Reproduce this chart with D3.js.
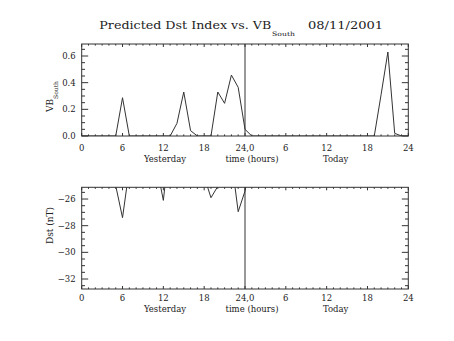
<!DOCTYPE html>
<html><head><meta charset="utf-8">
<script src="https://cdn.jsdelivr.net/npm/d3@7/dist/d3.min.js"></script>
<style>
html,body{margin:0;padding:0;background:#fff;}
svg{display:block;}
text{font-family:"DejaVu Serif",serif;fill:#222;}
</style></head>
<body>
<script>
// ---- data ----
const hoursVB = d3.range(0, 49);
const vbSouth = [0,0,0,0,0,0,0.287,0,0,0,0,0,0,0,0.095,0.33,0.04,0,0,0,0.33,0.245,0.457,0.365,0.05,0,
                 0,0,0,0,0,0,0,0,0,0,0,0,0,0,0,0,0,0,0.31,0.63,0.02,0,0];
const hoursDst = d3.range(0, 26);
const dst = [-24.0,-24.0,-24.0,-24.0,-24.0,-25.0,-27.4,-23.7,-23.5,-23.5,-23.5,-23.5,-26.1,-21.5,-23.0,-23.5,-24.0,-24.0,-24.3,-25.9,-25.05,-24.5,-23.0,-26.95,-25.4,-22.6];
const xTickValues = [0,6,12,18,24,30,36,42,48];
const xTickLabels = ["0","6","12","18","24,0","6","12","18","24"];
const vbTicks = [0.0,0.2,0.4,0.6];
const dstTicks = [-26,-28,-30,-32];
const titleText = "Predicted Dst Index vs. VB";
const titleSub = "South";
const dateText = "08/11/2001";

const W = 454, H = 341;
const svg = d3.select("body").append("svg").attr("width", W).attr("height", H);

const x = d3.scaleLinear().domain([0, 48]).range([81.7, 408.3]);
const yTop = d3.scaleLinear().domain([0, 0.69]).range([136, 44]);
const yBot = d3.scaleLinear().domain([-32.75, -25.12]).range([289, 187.3]);

const lineCol = "#333";

function panel(y, yTicks, yMinorStep, yFmt, xs, ys, clipId, labelBase) {
  const [y0, y1] = y.range();
  const [x0, x1] = x.range();
  const g = svg.append("g");
  // frame
  g.append("rect").attr("x", x0).attr("y", y1).attr("width", x1 - x0).attr("height", y0 - y1)
    .attr("fill", "none").attr("stroke", lineCol).attr("stroke-width", 1);
  // x ticks (major + minor, top & bottom, inward)
  const xMinor = d3.range(0, 49, 1);
  xMinor.forEach(h => {
    const major = h % 6 === 0;
    const len = major ? 3 : 1.6;
    g.append("line").attr("x1", x(h)).attr("x2", x(h)).attr("y1", y0).attr("y2", y0 - len).attr("stroke", lineCol);
    g.append("line").attr("x1", x(h)).attr("x2", x(h)).attr("y1", y1).attr("y2", y1 + len).attr("stroke", lineCol);
  });
  // y ticks
  const [d0, d1] = y.domain();
  const yMin = d3.range(Math.ceil(d0 / yMinorStep) * yMinorStep, d1 + 1e-9, yMinorStep);
  yMin.forEach(v => {
    const major = yTicks.some(t => Math.abs(t - v) < 1e-6);
    const len = major ? 6.5 : 3.3;
    g.append("line").attr("x1", x0).attr("x2", x0 + len).attr("y1", y(v)).attr("y2", y(v)).attr("stroke", lineCol);
    g.append("line").attr("x1", x1).attr("x2", x1 - len).attr("y1", y(v)).attr("y2", y(v)).attr("stroke", lineCol);
  });
  yTicks.forEach(v => {
    g.append("text").attr("x", x0 - 6).attr("y", y(v)).attr("dy", "0.35em")
      .attr("text-anchor", "end").attr("font-size", 8.5).text(yFmt(v));
  });
  xTickValues.forEach((v, i) => {
    g.append("text").attr("x", x(v)).attr("y", labelBase).attr("text-anchor", "middle")
      .attr("font-size", 8.5).text(xTickLabels[i]);
  });
  g.append("text").attr("x", 165).attr("y", labelBase + 11.5).attr("text-anchor", "middle").attr("font-size", 8.5).text("Yesterday");
  g.append("text").attr("x", 252).attr("y", labelBase + 11.5).attr("text-anchor", "middle").attr("font-size", 8.5).text("time (hours)");
  g.append("text").attr("x", 335.7).attr("y", labelBase + 11.5).attr("text-anchor", "middle").attr("font-size", 8.5).text("Today");
  // vertical line at 24
  g.append("line").attr("x1", x(24)).attr("x2", x(24)).attr("y1", y0).attr("y2", y1).attr("stroke", lineCol);
  // clip + data line
  svg.append("clipPath").attr("id", clipId).append("rect")
    .attr("x", x0).attr("y", y1).attr("width", x1 - x0).attr("height", y0 - y1);
  const line = d3.line().x((d, i) => x(xs[i])).y(d => y(d));
  g.append("path").datum(ys).attr("d", line).attr("fill", "none")
    .attr("stroke", lineCol).attr("stroke-width", 1).attr("clip-path", `url(#${clipId})`);
  return g;
}

panel(yTop, vbTicks, 0.05, d3.format(".1f"), hoursVB, vbSouth, "c1", 150.7);
panel(yBot, dstTicks, 0.5, d3.format("d"), hoursDst, dst, "c2", 300.5);

// title
svg.append("text").attr("x", 99.3).attr("y", 29.3).attr("font-size", 10.5)
  .attr("textLength", 172).attr("lengthAdjust", "spacingAndGlyphs").text(titleText);
svg.append("text").attr("x", 272).attr("y", 36).attr("font-size", 6)
  .attr("textLength", 23).attr("lengthAdjust", "spacingAndGlyphs").text(titleSub);
svg.append("text").attr("x", 308).attr("y", 29.3).attr("font-size", 10.5)
  .attr("textLength", 75).attr("lengthAdjust", "spacingAndGlyphs").text(dateText);

// y titles
const t1 = svg.append("text").attr("transform", "translate(53,112) rotate(-90)").attr("font-size", 9);
t1.append("tspan").text("VB");
t1.append("tspan").attr("font-size", 6).attr("dy", 5).text("South");
svg.append("text").attr("transform", "translate(53,225.5) rotate(-90)").attr("text-anchor", "middle")
  .attr("font-size", 9).text("Dst (nT)");
</script>
</body></html>
